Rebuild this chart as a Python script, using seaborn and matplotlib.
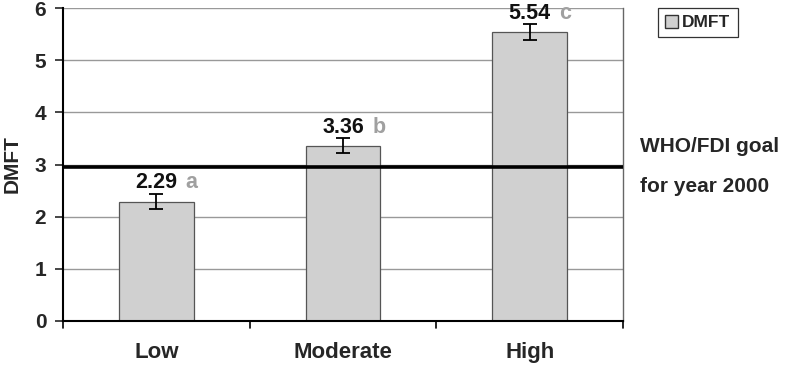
import matplotlib
matplotlib.use("Agg")
import matplotlib.pyplot as plt
import seaborn as sns
import pandas as pd
from matplotlib.patches import Patch

categories = ["Low", "Moderate", "High"]
dmft = [2.29, 3.36, 5.54]
err = [0.15, 0.14, 0.15]
letters = ["a", "b", "c"]
goal = 2.96
yticks = [0, 1, 2, 3, 4, 5, 6]

sns.set_theme(style="white")
plt.rcParams['font.family'] = ['Liberation Sans', 'DejaVu Sans']

fig = plt.figure(figsize=(7.85, 3.66), dpi=100)
ax = fig.add_axes([63/785, 1-321/366, 560/785, 313/366])

df = pd.DataFrame({"cat": categories, "DMFT": dmft})
sns.barplot(data=df, x="cat", y="DMFT", ax=ax, color="#d0d0d0",
            edgecolor="#555555", linewidth=0.9, width=0.4, saturation=1, zorder=3)
ax.errorbar(categories, dmft, yerr=err, fmt="none", ecolor="black",
            elinewidth=1.3, capsize=4.7, capthick=1.3, zorder=4)

for i, (v, e, l) in enumerate(zip(dmft, err, letters)):
    ax.annotate(f"{v:.2f}", xy=(i, v + e), xytext=(0, 4), textcoords="offset points",
                ha="center", va="baseline", fontsize=15.5, fontweight="bold", color="#111111",
                zorder=5, annotation_clip=False)
    ax.annotate(l, xy=(i, v + e), xytext=(21, 4), textcoords="offset points",
                ha="left", va="baseline", fontsize=15.5, fontweight="bold", color="#a0a0a0",
                zorder=5, annotation_clip=False)

ax.axhline(goal, color="black", linewidth=2.6, zorder=5)

ax.set_ylim(0, 6)
ax.set_xlim(-0.5, 2.5)
ax.set_yticks(yticks)
for y in yticks[1:]:
    ax.axhline(y, color="#999999", linewidth=1.0, zorder=1)

ax.set_xlabel("")
ax.set_ylabel("DMFT", fontsize=15, fontweight="bold", va="center")
ax.yaxis.set_label_coords(-51/560, 0.5)
ax.tick_params(axis="y", labelsize=15, length=6, width=1.2, direction="out", left=True, pad=6)
ax.tick_params(axis="x", labelsize=16, length=0, pad=15)
for lab in ax.get_yticklabels() + ax.get_xticklabels():
    lab.set_fontweight("bold")

# x-axis tick marks between categories
for xt in [-0.5, 0.5, 1.5, 2.5]:
    ax.plot([xt, xt], [0, -0.13], color="black", linewidth=1.2, clip_on=False, zorder=6)

ax.spines["top"].set_visible(False)
ax.spines["right"].set_color("#666666")
ax.spines["right"].set_linewidth(1.0)
ax.spines["left"].set_color("black")
ax.spines["left"].set_linewidth(1.5)
ax.spines["bottom"].set_color("black")
ax.spines["bottom"].set_linewidth(1.5)
ax.spines["left"].set_zorder(6)
ax.spines["bottom"].set_zorder(6)

fig.text(640/785, 1-146/366, "WHO/FDI goal", fontsize=15, fontweight="bold", va="center", ha="left")
fig.text(640/785, 1-186/366, "for year 2000", fontsize=15, fontweight="bold", va="center", ha="left")

leg = fig.legend(handles=[Patch(facecolor="#d0d0d0", edgecolor="#333333", label="DMFT")],
                 loc="upper left", bbox_to_anchor=(658/785, 1-8/366), frameon=True,
                 fancybox=False, edgecolor="black", prop={"size": 12.5, "weight": "bold"},
                 handlelength=0.75, handleheight=0.75, handletextpad=0.25, borderpad=0.4,
                 borderaxespad=0)
leg.get_frame().set_linewidth(0.9)

fig.savefig("out.png", dpi=100)
